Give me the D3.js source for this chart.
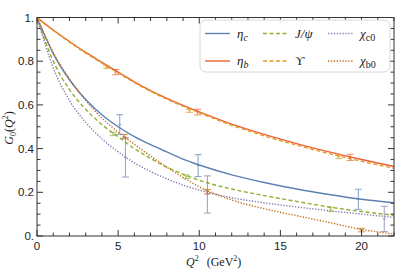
<!DOCTYPE html>
<html>
<head>
<meta charset="utf-8">
<script src="https://cdn.jsdelivr.net/npm/d3@7"></script>
<style>
  body { margin: 0; background: #fff; }
  svg { display: block; }
  .tick-label { font-family: "Liberation Sans", Arial, sans-serif; font-size: 11.5px; fill: #222; }
  .serif { font-family: "Liberation Serif", "Times New Roman", serif; fill: #222; }
</style>
</head>
<body>
<svg id="chart" width="399" height="272"></svg>
<script>
// Q^2 grid of the model curves (GeV^2)
let qGrid = [0, 1, 2, 3, 4, 5, 6, 7, 8, 9, 10, 12, 14, 16, 18, 20, 22];

// G0(Q^2) curves
let etacCurve = [1, 0.835, 0.715, 0.625, 0.555, 0.5, 0.455, 0.418, 0.385, 0.352, 0.325, 0.28, 0.245, 0.215, 0.19, 0.168, 0.152];
let etabCurve = [1, 0.943, 0.89, 0.84, 0.795, 0.75, 0.705, 0.665, 0.63, 0.598, 0.568, 0.512, 0.465, 0.423, 0.385, 0.35, 0.318];
let jpsiCurve = [1, 0.8, 0.67, 0.58, 0.51, 0.455, 0.4, 0.355, 0.315, 0.283, 0.255, 0.215, 0.185, 0.158, 0.133, 0.112, 0.095];
let upsCurve = [1, 0.941, 0.887, 0.837, 0.791, 0.746, 0.702, 0.662, 0.626, 0.594, 0.564, 0.507, 0.458, 0.416, 0.377, 0.342, 0.31];
let chic0Curve = [1, 0.77, 0.62, 0.52, 0.445, 0.385, 0.335, 0.295, 0.262, 0.233, 0.21, 0.175, 0.152, 0.133, 0.116, 0.1, 0.085];
let chib0Curve = [1, 0.84, 0.72, 0.62, 0.54, 0.475, 0.42, 0.366, 0.315, 0.268, 0.225, 0.165, 0.125, 0.093, 0.062, 0.03, 0.009];

// lattice points: [Q^2, G0, error]
let etacPts = [[5.1, 0.51, 0.045], [9.93, 0.322, 0.05], [19.8, 0.168, 0.046]];
let etabPts = [[4.85, 0.75, 0.012], [9.9, 0.567, 0.013], [19.3, 0.36, 0.014]];
let jpsiPts = [[4.7, 0.467, 0.008], [9.2, 0.271, 0.008], [18.1, 0.122, 0.01]];
let upsPts = [[4.3, 0.772, 0.006], [9.4, 0.573, 0.007], [18.6, 0.363, 0.008]];
let chic0Pts = [[5.45, 0.36, 0.09], [10.5, 0.19, 0.085], [21.4, 0.078, 0.058]];
let chib0Pts = [[5.4, 0.455, 0.01], [10.5, 0.203, 0.01], [20.0, 0.027, 0.008]];

let xTicks = [0, 5, 10, 15, 20];
let yTicks = [0, 0.2, 0.4, 0.6, 0.8, 1];
let yTickLabels = ["0.", "0.2", "0.4", "0.6", "0.8", "1."];

let series = [
    { name: "etac", curve: etacCurve, pts: etacPts, color: "#5E81B5", dash: null },
    { name: "jpsi", curve: jpsiCurve, pts: jpsiPts, color: "#8FB032", dash: "4,2.5" },
    { name: "chic0", curve: chic0Curve, pts: chic0Pts, color: "#8778B3", dash: "1.3,1.6" },
    { name: "etab", curve: etabCurve, pts: etabPts, color: "#EB6235", dash: null },
    { name: "ups", curve: upsCurve, pts: upsPts, color: "#E19C24", dash: "4,2.5" },
    { name: "chib0", curve: chib0Curve, pts: chib0Pts, color: "#C56E1A", dash: "1.3,1.6" }
];

let svg = d3.select("#chart");
let pLeft = 37, pRight = 394, pTop = 17.5, pBottom = 236;

let x = d3.scaleLinear().domain([0, 22]).range([pLeft, pRight]);
let y = d3.scaleLinear().domain([0, 1]).range([pBottom, pTop]);

//clip so curves stay inside the frame
svg.append("clipPath").attr("id", "clip")
    .append("rect").attr("x", pLeft).attr("y", pTop)
    .attr("width", pRight - pLeft).attr("height", pBottom - pTop);

let plot = svg.append("g").attr("clip-path", "url(#clip)");

let line = d3.line()
    .x((d, i) => x(qGrid[i]))
    .y(d => y(d))
    .curve(d3.curveMonotoneX);

//Draw the curves
series.forEach(s => {
    plot.append("path")
        .datum(s.curve)
        .attr("fill", "none")
        .attr("stroke", s.color)
        .attr("stroke-width", 1.4)
        .attr("stroke-dasharray", s.dash)
        .attr("d", line);
});

//Draw error bars
series.forEach(s => {
    let g = plot.append("g").attr("stroke", s.color).attr("stroke-width", 1).attr("opacity", 0.75);
    s.pts.forEach(p => {
        let cx = x(p[0]), y1 = y(p[1] + p[2]), y2 = y(p[1] - p[2]);
        g.append("line").attr("x1", cx).attr("x2", cx).attr("y1", y1).attr("y2", y2);
        g.append("line").attr("x1", cx - 3.5).attr("x2", cx + 3.5).attr("y1", y1).attr("y2", y1);
        g.append("line").attr("x1", cx - 3.5).attr("x2", cx + 3.5).attr("y1", y2).attr("y2", y2);
        g.append("line").attr("x1", cx - 1.5).attr("x2", cx + 1.5).attr("y1", y(p[1])).attr("y2", y(p[1]));
    });
});

//Frame with inward ticks on all sides
let frame = svg.append("g").attr("stroke", "#333").attr("stroke-width", 1).attr("fill", "none");
frame.append("rect").attr("x", pLeft).attr("y", pTop).attr("width", pRight - pLeft).attr("height", pBottom - pTop);

d3.range(0, 23, 1).forEach(v => {
    let major = v % 5 === 0;
    let len = major ? 6 : 3.5;
    frame.append("line").attr("x1", x(v)).attr("x2", x(v)).attr("y1", pBottom).attr("y2", pBottom - len);
    frame.append("line").attr("x1", x(v)).attr("x2", x(v)).attr("y1", pTop).attr("y2", pTop + len);
});
d3.range(0, 21, 1).forEach(k => {
    let v = k * 0.05;
    let major = k % 4 === 0;
    let len = major ? 6 : 3.5;
    frame.append("line").attr("x1", pLeft).attr("x2", pLeft + len).attr("y1", y(v)).attr("y2", y(v));
    frame.append("line").attr("x1", pRight).attr("x2", pRight - len).attr("y1", y(v)).attr("y2", y(v));
});

//Tick labels
svg.selectAll(".xlab").data(xTicks).enter().append("text")
    .attr("class", "tick-label")
    .attr("x", d => x(d)).attr("y", pBottom + 14)
    .attr("text-anchor", "middle")
    .text(d => d);

svg.selectAll(".ylab").data(yTicks).enter().append("text")
    .attr("class", "tick-label")
    .attr("x", pLeft - 3).attr("y", d => y(d) + 4)
    .attr("text-anchor", "end")
    .text((d, i) => yTickLabels[i]);

//Axis titles
let xt = svg.append("text").attr("class", "serif").attr("font-size", 12)
    .attr("x", 186).attr("y", 266);
xt.append("tspan").attr("font-style", "italic").text("Q");
xt.append("tspan").attr("font-size", 8).attr("dy", -5).text("2");
xt.append("tspan").attr("dy", 5).attr("dx", 8).text("(GeV");
xt.append("tspan").attr("font-size", 8).attr("dy", -5).text("2");
xt.append("tspan").attr("dy", 5).text(")");

let yt = svg.append("text").attr("class", "serif").attr("font-size", 12)
    .attr("transform", "translate(13,128) rotate(-90)")
    .attr("text-anchor", "middle");
yt.append("tspan").attr("font-style", "italic").text("G");
yt.append("tspan").attr("font-size", 8).attr("dy", 3).text("0");
yt.append("tspan").attr("dy", -3).text("(");
yt.append("tspan").attr("font-style", "italic").text("Q");
yt.append("tspan").attr("font-size", 8).attr("dy", -5).text("2");
yt.append("tspan").attr("dy", 5).text(")");

//Legend
let legend = svg.append("g");
legend.append("rect")
    .attr("x", 200).attr("y", 20).attr("width", 190).attr("height", 52)
    .attr("rx", 6).attr("fill", "#fff").attr("fill-opacity", 0.9)
    .attr("stroke", "#d8d8d8").attr("stroke-width", 1);

let legendItems = [
    { s: series[0], col: 0, row: 0, main: "η", sub: "c", subItalic: true },
    { s: series[1], col: 1, row: 0, main: "J/ψ", sub: "", subItalic: false },
    { s: series[2], col: 2, row: 0, main: "χ", sub: "c0", subItalic: false },
    { s: series[3], col: 0, row: 1, main: "η", sub: "b", subItalic: true },
    { s: series[4], col: 1, row: 1, main: "ϒ", sub: "", subItalic: false },
    { s: series[5], col: 2, row: 1, main: "χ", sub: "b0", subItalic: false }
];
let colX = [205, 263, 328];
let rowY = [33.5, 61];

legendItems.forEach(it => {
    let lx = colX[it.col], ly = rowY[it.row];
    legend.append("line")
        .attr("x1", lx).attr("x2", lx + 25).attr("y1", ly).attr("y2", ly)
        .attr("stroke", it.s.color).attr("stroke-width", 1.4)
        .attr("stroke-dasharray", it.s.dash);
    let t = legend.append("text").attr("class", "serif").attr("font-size", 13)
        .attr("x", lx + 32).attr("y", ly + 4);
    t.append("tspan").attr("font-style", it.main === "ϒ" ? "normal" : "italic").text(it.main);
    if (it.sub) {
        t.append("tspan").attr("font-size", 10).attr("dy", 3)
            .attr("font-style", it.subItalic ? "italic" : "normal").text(it.sub);
    }
});
</script>
</body>
</html>
